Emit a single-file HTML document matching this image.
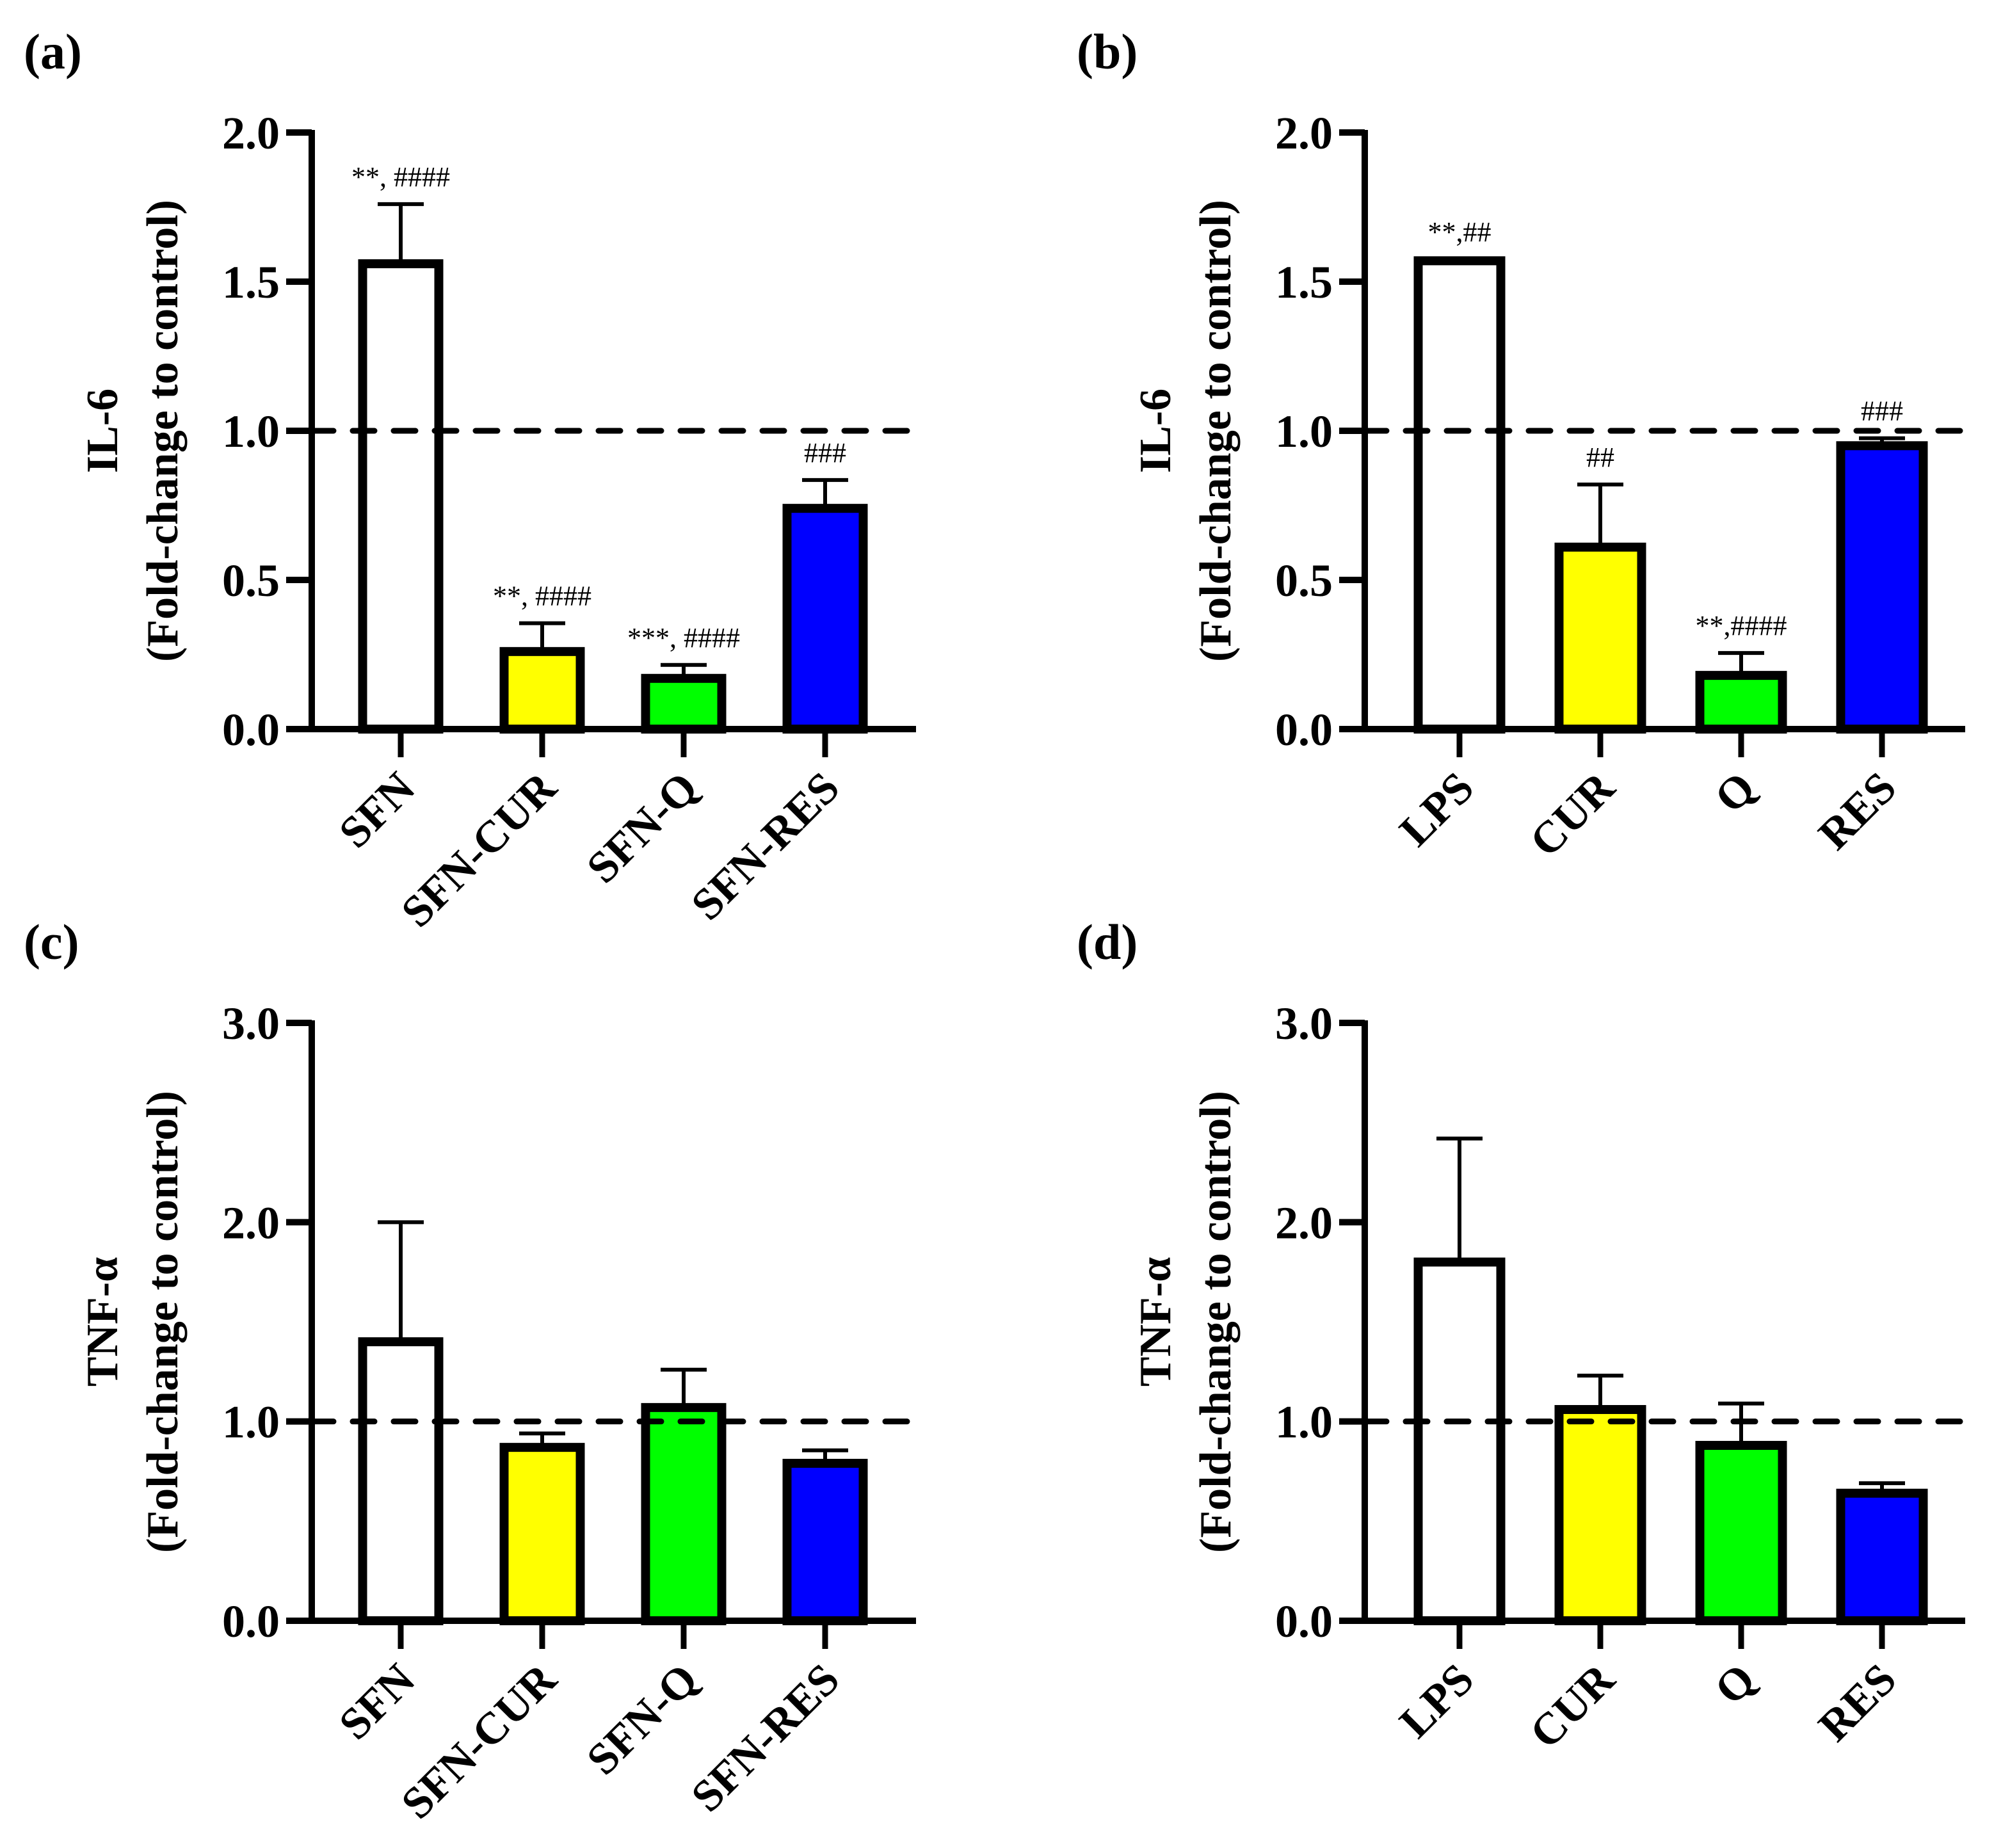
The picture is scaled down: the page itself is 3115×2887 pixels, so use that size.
<!DOCTYPE html>
<html><head><meta charset="utf-8">
<style>
html,body{margin:0;padding:0;background:#fff;}
svg{display:block;}
text{font-family:"Liberation Serif","DejaVu Serif",serif;}
</style></head>
<body>
<svg id="fig" width="3115" height="2887" viewBox="0 0 3115 2887" xmlns="http://www.w3.org/2000/svg"></svg>
<script>
const catsA = ["SFN","SFN-CUR","SFN-Q","SFN-RES"];
const catsB = ["LPS","CUR","Q","RES"];
const colors = ["#ffffff","#ffff00","#00ff00","#0000ff"];
const meanA = [1.56,0.26,0.17,0.74];
const errA  = [0.20,0.095,0.045,0.095];
const annA  = ["**, ####","**, ####","***, ####","###"];
const meanB = [1.57,0.61,0.18,0.95];
const errB  = [0.005,0.21,0.075,0.025];
const annB  = ["**,##","##","**,####","###"];
const meanC = [1.40,0.87,1.07,0.79];
const errC  = [0.60,0.07,0.19,0.065];
const meanD = [1.80,1.06,0.88,0.64];
const errD  = [0.62,0.17,0.21,0.05];
const ticksIL = ["0.0","0.5","1.0","1.5","2.0"];
const ticksTNF = ["0.0","1.0","2.0","3.0"];

const NS="http://www.w3.org/2000/svg";
const svg=document.getElementById('fig');
function mk(tag,attrs,parent){const e=document.createElementNS(NS,tag);for(const k in attrs)e.setAttribute(k,attrs[k]);(parent||svg).appendChild(e);return e;}

function panel(o){
  const g=mk('g',{});
  
  
  const ymax=o.ymax;
  const y=v=>o.y0-(v/ymax)*(o.y0-o.ytop);
  const n=o.cats.length;
  const x=i=>o.cx0+i*o.step;
  const pl=mk('text',{x:o.ax-450,y:o.ytop-100,'font-size':78,'font-weight':'bold'},g);
  pl.textContent='('+o.id+')';
  
  
  for(let i=0;i<n;i++){
    const top=y(o.mean[i]);
    const eb=mk('line',{x1:x(i),x2:x(i),y1:top,y2:y(o.mean[i]+o.err[i]),stroke:'#000','stroke-width':6},g);
    
    
    const cap=mk('line',{x1:x(i)-36,x2:x(i)+36,y1:y(o.mean[i]+o.err[i]),y2:y(o.mean[i]+o.err[i]),stroke:'#000','stroke-width':6},g);
    
    
    const r=mk('rect',{x:x(i)-o.bw/2+7,y:top,width:o.bw-14,height:o.y0-top,fill:colors[i],stroke:'#000','stroke-width':14},g);
    
    
    if(o.ann){
      const t=mk('text',{x:x(i),y:y(o.mean[i]+o.err[i])-28,'font-size':44,'text-anchor':'middle'},g);
      t.textContent=o.ann[i];
      
      
    }
    const xt=mk('line',{x1:x(i),x2:x(i),y1:o.y0,y2:o.y0+44,stroke:'#000','stroke-width':9},g);
    
    
    const lb=mk('text',{x:0,y:0,'font-size':70,'font-weight':'bold','text-anchor':'end',transform:`translate(${x(i)+26},${o.y0+96}) rotate(-45)`},g);
    lb.textContent=o.cats[i];
    
    
  }
  const d=mk('line',{x1:o.ax,x2:o.xend,y1:y(1),y2:y(1),stroke:'#000','stroke-width':9,'stroke-dasharray':'34 30','stroke-linecap':'round'},g);
  
  
  const ya=mk('line',{x1:o.ax,x2:o.ax,y1:o.ytop-4,y2:o.y0+4,stroke:'#000','stroke-width':10},g);
  
  
  const xa=mk('line',{x1:o.ax-40,x2:o.xend,y1:o.y0,y2:o.y0,stroke:'#000','stroke-width':10},g);
  
  
  o.ticks.forEach(tl=>{
    const v=parseFloat(tl);
    const tk=mk('line',{x1:o.ax-40,x2:o.ax,y1:y(v),y2:y(v),stroke:'#000','stroke-width':10},g);
    
    
    const t=mk('text',{x:o.ax-50,y:y(v)+25,'font-size':72,'font-weight':'bold','text-anchor':'end'},g);
    t.textContent=tl;
    
    
  });
  const cy=(o.ytop+o.y0)/2;
  const t1=mk('text',{x:0,y:0,'font-size':70,'font-weight':'bold','text-anchor':'middle',transform:`translate(${o.ax-304},${cy}) rotate(-90)`},g);
  t1.textContent=o.title;
  
  
  const t2=mk('text',{x:0,y:0,'font-size':70,'font-weight':'bold','text-anchor':'middle',transform:`translate(${o.ax-210},${cy}) rotate(-90)`},g);
  t2.textContent='(Fold-change to control)';
  
  
}
panel({id:'a',cats:catsA,mean:meanA,err:errA,ann:annA,ymax:2,ticks:ticksIL,title:'IL-6',ax:487,xend:1431,ytop:207,y0:1139,cx0:626,step:221,bw:133});
panel({id:'b',cats:catsB,mean:meanB,err:errB,ann:annB,ymax:2,ticks:ticksIL,title:'IL-6',ax:2132,xend:3070,ytop:207,y0:1139,cx0:2280,step:220,bw:143});
panel({id:'c',cats:catsA,mean:meanC,err:errC,ann:null,ymax:3,ticks:ticksTNF,title:'TNF-α',ax:487,xend:1431,ytop:1598,y0:2532,cx0:626,step:221,bw:133});
panel({id:'d',cats:catsB,mean:meanD,err:errD,ann:null,ymax:3,ticks:ticksTNF,title:'TNF-α',ax:2132,xend:3070,ytop:1598,y0:2532,cx0:2280,step:220,bw:143});
</script>
</body></html>
